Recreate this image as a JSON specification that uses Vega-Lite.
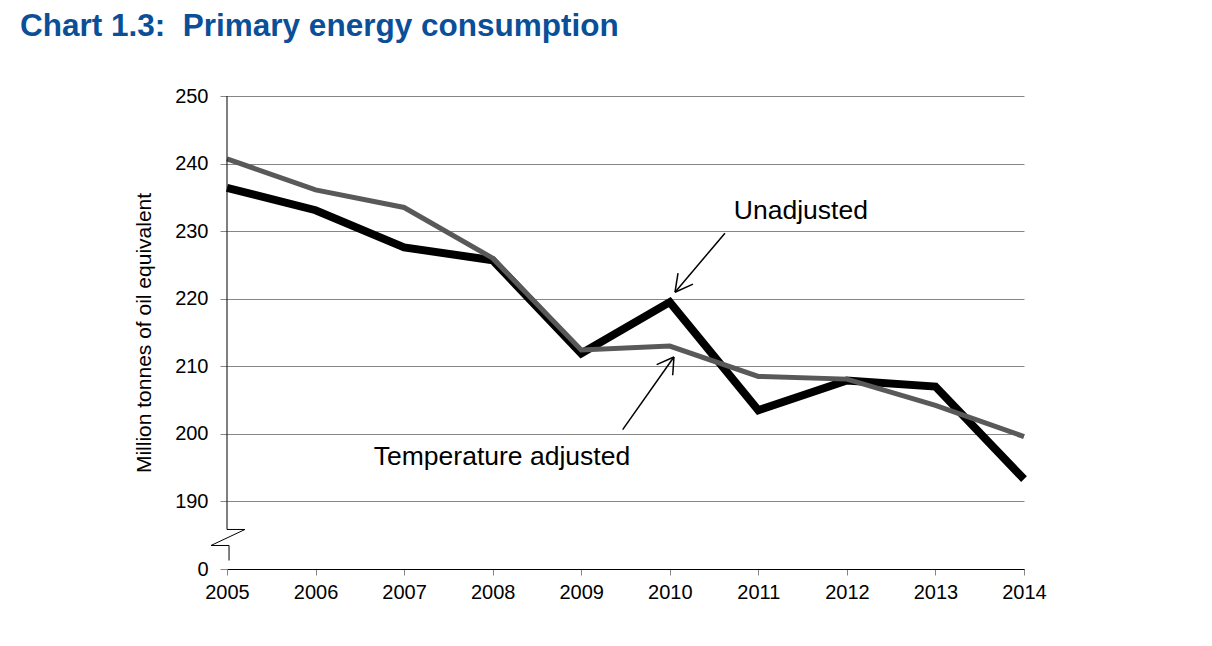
{
  "$schema": "https://vega.github.io/schema/vega-lite/v6.json",
  "width": 797,
  "height": 473,
  "autosize": {"type": "none"},
  "padding": {"left": 227, "top": 96, "right": 188, "bottom": 77},
  "background": "white",
  "title": {
    "text": "Chart 1.3:\u00a0 Primary energy consumption",
    "anchor": "start",
    "frame": "group",
    "dx": -207,
    "offset": 44,
    "font": "Liberation Sans",
    "fontSize": 31.5,
    "fontWeight": "bold",
    "color": "#0A4F97"
  },
  "config": {
    "view": {"stroke": null},
    "font": "Liberation Sans",
    "axis": {
      "labelFont": "Liberation Sans",
      "labelFontSize": 20,
      "labelColor": "#000000",
      "labelFlush": false,
      "titleFont": "Liberation Sans",
      "titleFontSize": 21,
      "titleFontWeight": "normal",
      "titleColor": "#000000",
      "tickColor": "#868686",
      "gridColor": "#868686",
      "gridOpacity": 1,
      "domainColor": "#000000"
    }
  },
  "datasets": {
    "series": [
      {"year": 2005, "series": "Unadjusted", "value": 236.4},
      {"year": 2006, "series": "Unadjusted", "value": 233.1},
      {"year": 2007, "series": "Unadjusted", "value": 227.6},
      {"year": 2008, "series": "Unadjusted", "value": 225.7},
      {"year": 2009, "series": "Unadjusted", "value": 211.9},
      {"year": 2010, "series": "Unadjusted", "value": 219.5},
      {"year": 2011, "series": "Unadjusted", "value": 203.5},
      {"year": 2012, "series": "Unadjusted", "value": 207.9},
      {"year": 2013, "series": "Unadjusted", "value": 207.0},
      {"year": 2014, "series": "Unadjusted", "value": 193.3},
      {"year": 2005, "series": "Temperature adjusted", "value": 240.7},
      {"year": 2006, "series": "Temperature adjusted", "value": 236.1},
      {"year": 2007, "series": "Temperature adjusted", "value": 233.5},
      {"year": 2008, "series": "Temperature adjusted", "value": 226.0},
      {"year": 2009, "series": "Temperature adjusted", "value": 212.4},
      {"year": 2010, "series": "Temperature adjusted", "value": 213.0},
      {"year": 2011, "series": "Temperature adjusted", "value": 208.5},
      {"year": 2012, "series": "Temperature adjusted", "value": 208.1},
      {"year": 2013, "series": "Temperature adjusted", "value": 204.2},
      {"year": 2014, "series": "Temperature adjusted", "value": 199.6}
    ],
    "axisline": [
      {"i": 0, "year": 2005, "value": 250},
      {"i": 1, "year": 2005, "value": 185.85},
      {"i": 2, "year": 2005.203, "value": 185.85},
      {"i": 3, "year": 2004.819, "value": 183.48},
      {"i": 4, "year": 2005.023, "value": 183.48},
      {"i": 5, "year": 2005.023, "value": 181.26}
    ],
    "arrows": [
      {"year": 2010.623, "value": 229.70, "year2": 2010.059, "value2": 220.96},
      {"year": 2010.059, "value": 220.96, "year2": 2010.093, "value2": 223.78},
      {"year": 2010.059, "value": 220.96, "year2": 2010.262, "value2": 222.15},
      {"year": 2009.468, "value": 200.62, "year2": 2010.047, "value2": 211.38},
      {"year": 2010.047, "value": 211.38, "year2": 2009.852, "value2": 210.25},
      {"year": 2010.047, "value": 211.38, "year2": 2010.033, "value2": 208.67}
    ],
    "labels": [
      {"label": "Unadjusted", "year": 2011.48, "value": 232.96},
      {"label": "Temperature adjusted", "year": 2008.105, "value": 196.52}
    ]
  },
  "layer": [
    {
      "data": {"name": "series"},
      "transform": [{"filter": "datum.series == 'Unadjusted'"}],
      "mark": {"type": "line", "color": "#000000", "strokeWidth": 8, "strokeJoin": "miter", "strokeCap": "butt"},
      "encoding": {
        "x": {
          "field": "year", "type": "quantitative",
          "scale": {"domain": [2005, 2014], "nice": false, "zero": false},
          "axis": {"title": null, "values": [2005, 2006, 2007, 2008, 2009, 2010, 2011, 2012, 2013, 2014], "format": "d", "grid": false, "tickSize": 6, "labelPadding": 7, "domainWidth": 1}
        },
        "y": {
          "field": "value", "type": "quantitative",
          "scale": {"domain": [180, 250], "nice": false, "zero": false},
          "axis": {"title": "Million tonnes of oil equivalent", "values": [180, 190, 200, 210, 220, 230, 240, 250], "labelExpr": "datum.value == 180 ? '0' : datum.label", "grid": true, "domain": false, "tickSize": 7, "labelPadding": 12, "titlePadding": 20}
        }
      }
    },
    {
      "data": {"name": "series"},
      "transform": [{"filter": "datum.series == 'Temperature adjusted'"}],
      "mark": {"type": "line", "color": "#595959", "strokeWidth": 5, "strokeJoin": "miter"},
      "encoding": {
        "x": {"field": "year", "type": "quantitative"},
        "y": {"field": "value", "type": "quantitative"}
      }
    },
    {
      "data": {"name": "axisline"},
      "mark": {"type": "line", "color": "#000000", "strokeWidth": 1},
      "encoding": {
        "x": {"field": "year", "type": "quantitative"},
        "y": {"field": "value", "type": "quantitative"},
        "order": {"field": "i", "type": "quantitative"}
      }
    },
    {
      "data": {"name": "arrows"},
      "mark": {"type": "rule", "color": "#000000", "strokeWidth": 1.5},
      "encoding": {
        "x": {"field": "year", "type": "quantitative"},
        "y": {"field": "value", "type": "quantitative"},
        "x2": {"field": "year2"},
        "y2": {"field": "value2"}
      }
    },
    {
      "data": {"name": "labels"},
      "mark": {"type": "text", "fontSize": 26.5, "font": "Liberation Sans", "color": "#000000", "align": "center", "baseline": "middle"},
      "encoding": {
        "x": {"field": "year", "type": "quantitative"},
        "y": {"field": "value", "type": "quantitative"},
        "text": {"field": "label"}
      }
    }
  ]
}
